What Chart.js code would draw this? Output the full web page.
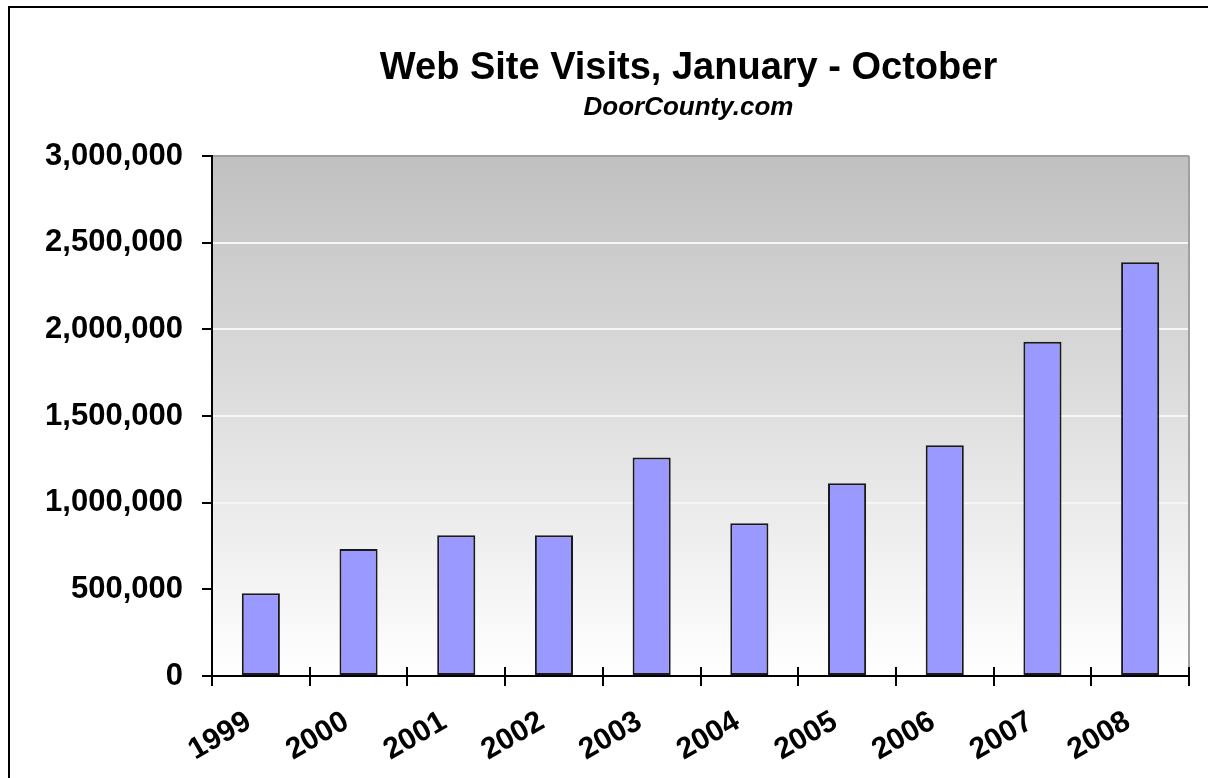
<!DOCTYPE html>
<html>
<head>
<meta charset="utf-8">
<title>Web Site Visits, January - October</title>
<script src="https://cdn.jsdelivr.net/npm/chart.js@4.4.1/dist/chart.umd.min.js"></script>
<style>
  html, body { margin: 0; padding: 0; background: #fff; overflow: hidden; }
  #marco { position: absolute; left: 8px; top: 6px; width: 1400px; height: 1000px; border: 2px solid #000; }
  #contenedor { position: absolute; left: 0; top: 0; width: 1208px; height: 778px; }
</style>
</head>
<body>
<div id="marco"></div>
<div id="contenedor"><canvas id="graficoVisitas"></canvas></div>
<script>
// Datos
const anios = ['1999', '2000', '2001', '2002', '2003', '2004', '2005', '2006', '2007', '2008'];
const visitas = [477000, 733000, 812000, 812000, 1260000, 881000, 1112000, 1331000, 1929000, 2387000];
const marcasY = [0, 500000, 1000000, 1500000, 2000000, 2500000, 3000000];
const titulo = 'Web Site Visits, January - October';
const subtitulo = 'DoorCounty.com';

const fuente = "'Liberation Sans', Arial, sans-serif";

// fondo degradado del área de trazado, borde derecho, marcas que cruzan el eje x y títulos
const fondoDegradado = {
  id: 'fondoDegradado',
  beforeDraw(chart) {
    const { ctx, chartArea: a } = chart;
    const g = ctx.createLinearGradient(0, a.top, 0, a.bottom);
    g.addColorStop(0, '#c0c0c0');
    g.addColorStop(1, '#ffffff');
    ctx.save();
    ctx.fillStyle = g;
    ctx.fillRect(a.left, a.top, a.right - a.left, a.bottom - a.top);
    ctx.restore();
  },
  afterDraw(chart) {
    const { ctx, chartArea: a, scales } = chart;
    const x = scales.x;
    ctx.save();
    ctx.strokeStyle = '#a0a0a0';
    ctx.lineWidth = 2;
    ctx.beginPath();
    ctx.moveTo(a.right, a.top);
    ctx.lineTo(a.right, a.bottom);
    ctx.stroke();
    ctx.strokeStyle = '#000';
    ctx.beginPath();
    const paso = x.width / anios.length;
    for (let i = 0; i <= anios.length; i++) {
      const px = Math.round(x.left + i * paso);
      ctx.moveTo(px, a.bottom - 9);
      ctx.lineTo(px, a.bottom);
    }
    ctx.stroke();

    // el título original va algo a la izquierda del centro del área
    const cx = (a.left + a.right) / 2 - 12;
    ctx.fillStyle = '#000';
    ctx.textAlign = 'center';
    ctx.textBaseline = 'alphabetic';
    ctx.font = `bold 38px ${fuente}`;
    ctx.fillText(titulo, cx, 79);
    ctx.font = `italic bold 26px ${fuente}`;
    ctx.fillText(subtitulo, cx, 115);
    ctx.restore();
  }
};

const iniciar = () => {
  const ctx = document.getElementById('graficoVisitas');
  new Chart(ctx, {
    type: 'bar',
    data: {
      labels: anios,
      datasets: [{
        label: 'Visits',
        data: visitas,
        backgroundColor: '#9999ff',
        borderColor: '#1a1a1a',
        borderWidth: 2,
        borderSkipped: false,
        barPercentage: 0.39,
        categoryPercentage: 1.0
      }]
    },
    options: {
      responsive: true,
      maintainAspectRatio: false,
      animation: false,
      layout: { padding: { left: 0, right: 19, top: 156, bottom: 0 } },
      plugins: {
        legend: { display: false },
        tooltip: { enabled: false },
        title: { display: false },
        subtitle: { display: false }
      },
      scales: {
        x: {
          grid: { display: true, offset: true, drawOnChartArea: false, drawTicks: true, tickLength: 10, color: '#000', lineWidth: 2 },
          border: { display: true, color: '#000', width: 2 },
          ticks: {
            autoSkip: false,
            maxRotation: 30,
            minRotation: 30,
            padding: 18,
            labelOffset: -12,
            color: '#000',
            font: { family: fuente, size: 30, weight: 'bold' }
          },
          afterFit(s) { s.height = 102; }
        },
        y: {
          min: 0,
          max: 3000000,
          afterBuildTicks(s) { s.ticks = marcasY.map(v => ({ value: v })); },
          grid: {
            color: (c) => (c.tick && c.tick.value === 3000000) ? '#a0a0a0' : '#f6f6f6',
            lineWidth: 2,
            tickColor: '#000',
            tickLength: 10
          },
          border: { display: true, color: '#000', width: 2 },
          ticks: {
            padding: 19,
            color: '#000',
            font: { family: fuente, size: 31, weight: 'bold' },
            callback: (v) => Number(v).toLocaleString('en-US')
          },
          afterFit(s) { s.width = 212; }
        }
      }
    },
    plugins: [fondoDegradado]
  });
};

if (document.readyState === 'loading') {
  document.addEventListener('DOMContentLoaded', iniciar);
} else {
  iniciar();
}
</script>
</body>
</html>
